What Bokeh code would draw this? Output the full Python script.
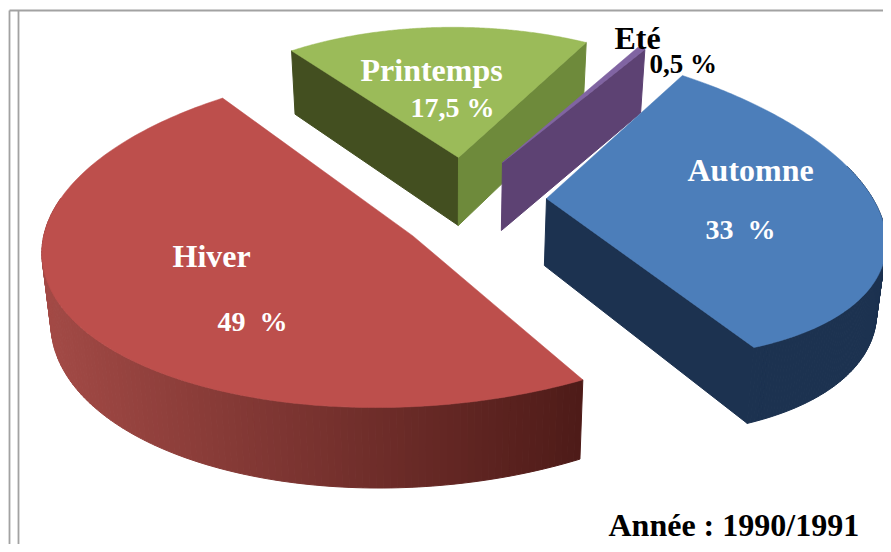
import numpy as np
from bokeh.plotting import figure
from bokeh.models import Range1d
from bokeh.core.properties import value
from bokeh.embed import file_html
from bokeh.resources import INLINE

# ---- data
SEASONS = ["Hiver", "Printemps", "Eté", "Automne"]
SHARES = [49.0, 17.5, 0.5, 33.0]
SHARE_LABELS = ["49 \u00a0%", "17,5 %", "0,5 %", "33 \u00a0%"]
CAPTION = "Année : 1990/1991"

# ---- colours
TOP = {"Hiver": "#BD4F4C", "Printemps": "#9BBB59", "Eté": "#8064A2", "Automne": "#4C7EBA"}
FACE = {"Printemps": {"start": "#434F20", "end": "#6E8A3B"},
        "Eté": {"end": "#5D4273"},
        "Automne": {"end": "#1C3250"}}
ARC = {"Hiver": ("#A34A46", "#4E1B18"), "Automne": ("#1C3250", "#1C3250")}

# ---- layout of the exploded 3D pie, in picture pixels
START_ANGLE = 62.0
LEAN = 0.022       # sideways drift of the lower rim, towards the viewing axis
AXIS_X = 450
SHAPE = {  # apex x, apex y, matrix that projects the unit circle, depth at apex
    "Hiver": (412.4, 235.4, 371, -4.8, -15, 171, 70),
    "Printemps": (458, 157, 282, 22.5, -7.7, 130, 68),
    "Eté": (502, 162, 260, 0, 0, 135, 68),
    "Automne": (546, 198, 335, 56.8, 18.4, 159, 67),
}
DRAW_ORDER = ["Printemps", "Eté", "Hiver", "Automne"]

spans = {}
a0 = START_ANGLE
for s, v in zip(SEASONS, SHARES):
    spans[s] = (a0, a0 + v * 3.6)
    a0 += v * 3.6


def project(s, t):
    cx, cy, a, k, m, b, d = SHAPE[s]
    r = np.radians(t)
    u, w = np.cos(r), np.sin(r)
    grow = 0.15 if w > 0 else 0.08
    return cx + a * u + k * w, cy + m * u + b * w, d * (1 + grow * w)


def lean(x):
    return x - LEAN * (x - AXIS_X)


def hex2rgb(c):
    return np.array([int(c[i:i + 2], 16) for i in (1, 3, 5)], float)


def lerp(c1, c2, f):
    c = hex2rgb(c1) * (1 - f) + hex2rgb(c2) * f
    return "#%02x%02x%02x" % tuple(int(round(x)) for x in c)


p = figure(width=883, height=544, x_range=Range1d(0, 883), y_range=Range1d(544, 0),
           toolbar_location=None, output_backend="svg", min_border=0,
           outline_line_color=None, background_fill_color="white",
           margin=(0, -8, -8, 0))
p.axis.visible = False
p.grid.visible = False

# frame of the scanned page
p.segment(x0=[9, 18, 9], y0=[10, 10, 10], x1=[9, 18, 883], y1=[544, 544, 10],
          line_color="#A2A2A2", line_width=1.8)

for s in DRAW_ORDER:
    t0, t1 = spans[s]
    cx, cy, *_, d = SHAPE[s]
    xs, ys, cols = [], [], []
    # curved side, as thin strips so that the shading can run across it
    if s in ARC:
        ts = np.linspace(t0, t1, 161)
        for ta, tb in zip(ts[:-1], ts[1:]):
            if np.sin(np.radians(tb)) < -0.3 and np.sin(np.radians(ta)) < -0.3:
                continue
            xa, ya, da = project(s, ta)
            xb, yb, db = project(s, tb)
            xs.append([xa, xb, lean(xb), lean(xa)])
            ys.append([ya, yb, yb + db, ya + da])
            f = np.clip((0.5 * (xa + xb) - 40) / (582 - 40), 0, 1)
            cols.append(lerp(*ARC[s], f))
    # flat cut faces
    for key, col in FACE.get(s, {}).items():
        tf = t0 if key == "start" else t1
        xa, ya, da = project(s, tf)
        xs.append([cx, xa, lean(xa), lean(cx)])
        ys.append([cy, ya, ya + da, cy + d])
        cols.append(col)
    if xs:
        p.patches(xs=xs, ys=ys, fill_color=cols, line_color=cols, line_width=1.0, line_join="round")
    # top surface
    ts = np.linspace(t0, t1, 181)
    pts = [project(s, t) for t in ts]
    p.patch(x=[cx] + [q[0] for q in pts], y=[cy] + [q[1] for q in pts],
            fill_color=TOP[s], line_color=TOP[s], line_width=0.5, line_join="round")


def label(txt, x, y, size, color):
    p.text(x=[x], y=[y - 0.4 * size], text=[txt], text_color=color,
           text_font=value("Liberation Serif"), text_font_style="bold",
           text_font_size=f"{size}px", text_baseline="alphabetic", text_align="left")


WHITE, BLACK = "#FFFFFF", "#000000"
label(SEASONS[1], 360, 82, 32, WHITE)
label(SHARE_LABELS[1], 410, 118, 28, WHITE)
label(SEASONS[3], 687, 182, 32, WHITE)
label(SHARE_LABELS[3], 705, 240, 28, WHITE)
label(SEASONS[0], 172, 268, 32, WHITE)
label(SHARE_LABELS[0], 217, 332, 28, WHITE)
label(SEASONS[2], 614, 50, 32, BLACK)
label(SHARE_LABELS[2], 649, 74, 27, BLACK)
label(CAPTION, 608, 537, 32, BLACK)

open("out.html", "w").write(file_html(p, INLINE))
